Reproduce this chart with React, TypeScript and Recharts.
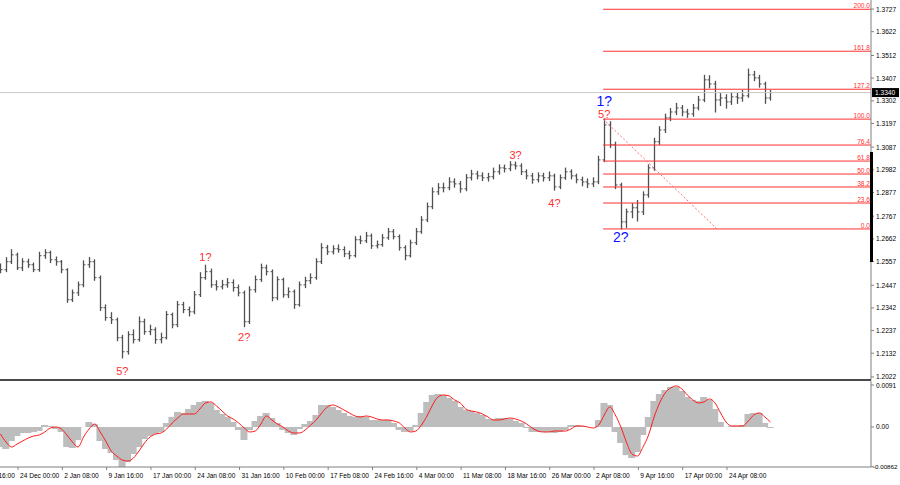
import { ComposedChart, Bar, Line, XAxis, YAxis, ReferenceLine, ReferenceDot } from 'recharts';

// GBPUSD-like H4 bars (one bar here stands for a few of the original)
const firstOpen = 1.2530;
const closes = [
  1.2519, 1.2556, 1.2588, 1.2528, 1.2556, 1.2542, 1.2519, 1.2584, 1.2598, 1.2565,
  1.2556, 1.2519, 1.2380, 1.2412, 1.2449, 1.2542, 1.2556, 1.2482, 1.2343, 1.2297,
  1.2287, 1.2204, 1.2139, 1.2218, 1.2195, 1.2278, 1.2232, 1.2241, 1.2195, 1.2204,
  1.2311, 1.2264, 1.2357, 1.2334, 1.2324, 1.2403, 1.2482, 1.2510, 1.2449, 1.2440,
  1.2449, 1.2459, 1.2436, 1.2412, 1.2278, 1.2426, 1.2473, 1.2528, 1.2510, 1.2389,
  1.2473, 1.2403, 1.2417, 1.2357, 1.2449, 1.2468, 1.2482, 1.2556, 1.2621, 1.2602,
  1.2616, 1.2612, 1.2593, 1.2584, 1.2658, 1.2653, 1.2676, 1.2630, 1.2635, 1.2667,
  1.2695, 1.2672, 1.2621, 1.2584, 1.2644, 1.2695, 1.2750, 1.2811, 1.2880, 1.2899,
  1.2899, 1.2926, 1.2917, 1.2894, 1.2945, 1.2963, 1.2954, 1.2945, 1.2950, 1.2973,
  1.2991, 1.2987, 1.3005, 1.3000, 1.2973, 1.2954, 1.2936, 1.2954, 1.2945, 1.2954,
  1.2903, 1.2945, 1.2973, 1.2954, 1.2936, 1.2926, 1.2917, 1.2926, 1.3028, 1.3190,
  1.3098, 1.2912, 1.2741, 1.2787, 1.2806, 1.2787, 1.2866, 1.2991, 1.3112, 1.3167,
  1.3223, 1.3250, 1.3269, 1.3250, 1.3241, 1.3269, 1.3306, 1.3399, 1.3380, 1.3306,
  1.3315, 1.3297, 1.3320, 1.3315, 1.3325, 1.3422, 1.3408, 1.3380, 1.3315, 1.3340,
];
const highs = [
  1.2545, 1.2575, 1.2612, 1.2596, 1.2570, 1.2568, 1.2550, 1.2600, 1.2612, 1.2605,
  1.2578, 1.2562, 1.2524, 1.2425, 1.2462, 1.2560, 1.2576, 1.2565, 1.2490, 1.2356,
  1.2320, 1.2295, 1.2215, 1.2232, 1.2240, 1.2300, 1.2290, 1.2262, 1.2250, 1.2225,
  1.2325, 1.2318, 1.2372, 1.2368, 1.2346, 1.2418, 1.2505, 1.2540, 1.2522, 1.2468,
  1.2470, 1.2478, 1.2472, 1.2448, 1.2420, 1.2440, 1.2490, 1.2545, 1.2540, 1.2518,
  1.2486, 1.2480, 1.2435, 1.2425, 1.2462, 1.2484, 1.2500, 1.2570, 1.2640, 1.2632,
  1.2630, 1.2634, 1.2625, 1.2605, 1.2672, 1.2675, 1.2692, 1.2684, 1.2652, 1.2682,
  1.2710, 1.2705, 1.2680, 1.2630, 1.2656, 1.2710, 1.2765, 1.2828, 1.2898, 1.2918,
  1.2920, 1.2945, 1.2940, 1.2928, 1.2960, 1.2980, 1.2975, 1.2968, 1.2966, 1.2990,
  1.3005, 1.3004, 1.3020, 1.3018, 1.3010, 1.2982, 1.2965, 1.2968, 1.2966, 1.2972,
  1.2962, 1.2958, 1.2990, 1.2982, 1.2962, 1.2948, 1.2940, 1.2945, 1.3045, 1.3217,
  1.3205, 1.3110, 1.2920, 1.2800, 1.2825, 1.2840, 1.2880, 1.3005, 1.3128, 1.3182,
  1.3240, 1.3266, 1.3290, 1.3280, 1.3262, 1.3285, 1.3322, 1.3420, 1.3418, 1.3392,
  1.3335, 1.3330, 1.3340, 1.3336, 1.3350, 1.3449, 1.3438, 1.3420, 1.3388, 1.3350,
];
const lows = [
  1.2505, 1.2510, 1.2548, 1.2520, 1.2515, 1.2530, 1.2510, 1.2512, 1.2572, 1.2552,
  1.2540, 1.2505, 1.2368, 1.2372, 1.2400, 1.2440, 1.2530, 1.2470, 1.2330, 1.2285,
  1.2270, 1.2190, 1.2110, 1.2128, 1.2180, 1.2188, 1.2220, 1.2218, 1.2178, 1.2180,
  1.2198, 1.2250, 1.2255, 1.2320, 1.2305, 1.2315, 1.2395, 1.2475, 1.2438, 1.2425,
  1.2430, 1.2438, 1.2420, 1.2398, 1.2255, 1.2270, 1.2415, 1.2465, 1.2495, 1.2375,
  1.2380, 1.2392, 1.2390, 1.2340, 1.2350, 1.2436, 1.2455, 1.2475, 1.2548, 1.2590,
  1.2592, 1.2600, 1.2580, 1.2570, 1.2578, 1.2640, 1.2645, 1.2618, 1.2620, 1.2628,
  1.2660, 1.2662, 1.2610, 1.2565, 1.2578, 1.2636, 1.2688, 1.2742, 1.2802, 1.2868,
  1.2880, 1.2890, 1.2902, 1.2878, 1.2885, 1.2935, 1.2940, 1.2932, 1.2930, 1.2940,
  1.2962, 1.2972, 1.2978, 1.2986, 1.2960, 1.2940, 1.2920, 1.2926, 1.2930, 1.2932,
  1.2888, 1.2895, 1.2938, 1.2940, 1.2922, 1.2908, 1.2900, 1.2905, 1.2918, 1.3020,
  1.3085, 1.2895, 1.2708, 1.2715, 1.2760, 1.2745, 1.2775, 1.2855, 1.2980, 1.3100,
  1.3155, 1.3210, 1.3238, 1.3232, 1.3225, 1.3230, 1.3260, 1.3298, 1.3362, 1.3250,
  1.3280, 1.3268, 1.3285, 1.3290, 1.3300, 1.3318, 1.3395, 1.3365, 1.3290, 1.3305,
];

// MACD panel: histogram (grey) and signal (red)
const macdHist = [
  -0.00434, -0.00477, -0.00304, -0.00195, -0.0013, -0.0013, -0.00108, -0.00087, 0.00043, 0.00022,
  -0.00043, -0.00108, -0.00434, -0.00456, -0.00282, 0, 0.00108, 0.00065, -0.00304, -0.00477,
  -0.00564, -0.00716, -0.00868, -0.0076, -0.00586, -0.00434, -0.0026, -0.00195, -0.00152, -0.00108,
  0.00087, 0.00217, 0.00326, 0.00304, 0.00391, 0.00477, 0.00543, 0.00564, 0.00521, 0.00369,
  0.00282, 0.00217, 0.00108, -0.00065, -0.00282, -0.00065, 0.0013, 0.00239, 0.00304, 0.00195,
  0.00087, -0.00065, -0.0013, -0.00174, -0.00043, 0.00065, 0.0013, 0.0026, 0.00477, 0.00477,
  0.00434, 0.00369, 0.00304, 0.00239, 0.00217, 0.00239, 0.00217, 0.00152, 0.00152, 0.00152,
  0.00152, 0.00087, -0.00065, -0.00108, -0.00087, 0.00043, 0.00304, 0.00543, 0.00694, 0.00716,
  0.00694, 0.00629, 0.00564, 0.00434, 0.00369, 0.00347, 0.00304, 0.0026, 0.00174, 0.00174,
  0.00195, 0.00195, 0.00174, 0.0013, 0.00087, -0.00022, -0.00108, -0.00108, -0.00108, -0.00108,
  -0.0013, -0.00108, -0.00065, 0.00043, 0.00043, 0.00022, 0, 0, 0.00152, 0.00521,
  0.00477, -0.00108, -0.00347, -0.00608, -0.00673, -0.00543, -0.00174, 0.00217, 0.00564, 0.00716,
  0.00803, 0.00868, 0.00868, 0.00781, 0.00651, 0.00586, 0.00564, 0.00651, 0.00586, 0.00391,
  0.00108, 0, 0.00022, 0.00022, 0.00043, 0.00282, 0.00304, 0.00304, 0.00087, -0.00022,
];
const macdSignal = [
  -0.00152, -0.00326, -0.00434, -0.00369, -0.00304, -0.00239, -0.00195, -0.00174, -0.00108, -0.00022,
  0, -0.00043, -0.00174, -0.00326, -0.00434, -0.00217, -0.00043, 0.00065, -0.00108, -0.00304,
  -0.00521, -0.00629, -0.00716, -0.00738, -0.00673, -0.00521, -0.00347, -0.00217, -0.00152, -0.0013,
  -0.00043, 0.00087, 0.00195, 0.00282, 0.00282, 0.00282, 0.00391, 0.00521, 0.00543, 0.00456,
  0.00347, 0.00239, 0.00174, 0.00087, -0.00022, -0.00108, -0.00087, 0.00065, 0.00239, 0.00152,
  0.00065, 0, -0.00087, -0.0013, -0.0013, -0.00065, 0.00043, 0.00152, 0.00304, 0.00434,
  0.00477, 0.00434, 0.00369, 0.00304, 0.00239, 0.00217, 0.00239, 0.00217, 0.00174, 0.00152,
  0.00152, 0.0013, 0.00087, -0.00022, -0.00108, -0.00087, 0.00043, 0.00239, 0.00477, 0.00651,
  0.00694, 0.00673, 0.00586, 0.00521, 0.00391, 0.00347, 0.00326, 0.00282, 0.00217, 0.00152,
  0.00152, 0.00174, 0.00195, 0.00174, 0.0013, 0.00065, -0.00022, -0.00087, -0.00108, -0.00108,
  -0.00087, -0.00087, -0.00087, -0.00043, 0.00022, 0.00022, 0, -0.00022, 0.00043, 0.0026,
  0.00434, 0.0026, 0, -0.00326, -0.00586, -0.00629, -0.00434, -0.00174, 0.00217, 0.00521,
  0.00738, 0.00846, 0.0089, 0.00825, 0.00694, 0.00586, 0.00521, 0.00543, 0.00608, 0.00521,
  0.00304, 0.00108, 0.00022, 0.00022, 0.00022, 0.0013, 0.0026, 0.00304, 0.00217, 0.00108,
];

const priceTicks = [
  1.3727, 1.3622, 1.3512, 1.3407, 1.3302, 1.3197, 1.3087, 1.2982, 1.2877,
  1.2767, 1.2662, 1.2557, 1.2447, 1.2342, 1.2237, 1.2132, 1.2022,
];
const macdTicks = [0.0091, 0, -0.00862];
const macdTickLabels = ['0.0091', '0.00', '-0.00862'];
const dateLabels = [
  '16 Dec 16:00', '24 Dec 00:00', '2 Jan 08:00', '9 Jan 16:00', '17 Jan 00:00', '24 Jan 08:00',
  '31 Jan 16:00', '10 Feb 00:00', '17 Feb 08:00', '24 Feb 16:00', '4 Mar 00:00', '11 Mar 08:00',
  '18 Mar 16:00', '26 Mar 00:00', '2 Apr 08:00', '9 Apr 16:00', '17 Apr 00:00', '24 Apr 08:00',
];
const lastPrice = 1.3340;

// Fibonacci grid drawn from the 2? low to the 1? high
const fibLow = 1.2708;
const fibHigh = 1.3217;
const fibRatios = [0, 0.236, 0.382, 0.5, 0.618, 0.764, 1, 1.272, 1.618, 2];
const fibNames = ['0.0', '23.6', '38.2', '50.0', '61.8', '76.4', '100.0', '127.2', '161.8', '200.0'];

const X_DOMAIN: [number, number] = [-5.145, 157.16];
const FIRST_TICK = -4.84;
const BARS_PER_LABEL = 8;
const FIB_START = 108.8;
const FIB_DASH_END = 129.35;
const FONT = '"Liberation Sans", Arial, sans-serif';
const RED = '#ff3030';

const rows = closes.map((c, i) => ({
  i,
  open: i === 0 ? firstOpen : closes[i - 1],
  high: highs[i],
  low: lows[i],
  close: c,
  range: [lows[i], highs[i]],
  hist: macdHist[i],
  signal: macdSignal[i],
}));

const dateTicks = dateLabels.map((_, k) => FIRST_TICK + k * BARS_PER_LABEL);

const OhlcBar = (props: any) => {
  const { x, y, width, height, payload } = props;
  if (x == null || y == null) return null;
  const top = Math.min(y, y + height);
  const bottom = Math.max(y, y + height);
  const span = payload.high - payload.low || 1e-9;
  const toY = (v: number) => top + ((payload.high - v) / span) * (bottom - top);
  const cx = Math.round(x + width / 2) + 0.5;
  return (
    <g stroke="#505050" strokeWidth={1}>
      <line x1={cx} x2={cx} y1={top - 0.5} y2={bottom + 0.5} strokeWidth={1.3} />
      <line x1={cx - 2} x2={cx} y1={toY(payload.open)} y2={toY(payload.open)} />
      <line x1={cx} x2={cx + 2} y1={toY(payload.close)} y2={toY(payload.close)} />
    </g>
  );
};

// histogram columns widened a touch so they merge into a solid band
const HistBar = (props: any) => {
  const { x, y, width, height } = props;
  if (x == null || y == null || !height) return null;
  const top = Math.min(y, y + height);
  const h = Math.abs(height);
  return <rect x={x - 1} y={top} width={width + 2} height={h} fill="#bdbdbd" />;
};

const PriceTick = ({ x, y, payload }: any) => (
  <text x={x} y={y + 2.5} fontSize={6.6} fontFamily={FONT} fill="#000" textAnchor="start">
    {payload.value.toFixed(4)}
  </text>
);

const MacdTick = ({ x, y, index }: any) => {
  const label = macdTickLabels[index];
  const long = label.length > 6;
  return (
    <text x={long ? x - 3 : x} y={y + 2.5} fontSize={long ? 6.2 : 6.6} fontFamily={FONT} fill="#000" textAnchor="start">
      {label}
    </text>
  );
};

const DateTick = ({ x, y, index }: any) => (
  <text x={x + 2} y={y + 8} fontSize={6.6} fontFamily={FONT} fill="#000" textAnchor="start">
    {dateLabels[index]}
  </text>
);

const PriceBox = (props: any) => {
  const vb = props.viewBox || {};
  const right = vb.x + vb.width;
  return (
    <g>
      <rect x={right + 1} y={vb.y - 4.5} width={27} height={9} fill="#000" />
      <text x={right + 4} y={vb.y + 2.5} fontSize={6.6} fontFamily={FONT} fill="#fff">
        {lastPrice.toFixed(4)}
      </text>
    </g>
  );
};

const waveLabel = (text: string, color: string, size: number, position: 'top' | 'bottom', offset: number) => ({
  value: text,
  position,
  offset,
  fill: color,
  fontSize: size,
  fontFamily: FONT,
});

const App = () => {
  return (
    <div style={{ position: 'fixed', left: 0, top: 0, width: 900, height: 485, overflow: 'hidden', background: '#fff' }}>
      <div style={{ position: 'absolute', left: -28, top: 0 }}>
        <ComposedChart width={928} height={380} data={rows} margin={{ top: 0, right: 0, bottom: 0, left: 0 }}>
          <XAxis dataKey="i" type="number" domain={X_DOMAIN} hide allowDataOverflow />
          <YAxis
            orientation="right"
            width={29}
            domain={[1.2008, 1.3769]}
            ticks={priceTicks}
            interval={0}
            allowDataOverflow
            stroke="#808080"
            tickSize={3}
            tickMargin={2}
            tick={<PriceTick />}
          />
          <ReferenceLine y={lastPrice} stroke="#c8c8c8" label={<PriceBox />} />
          {fibRatios.map((r, k) => {
            const level = fibLow + (fibHigh - fibLow) * r;
            return (
              <ReferenceLine
                key={fibNames[k]}
                segment={[{ x: FIB_START, y: level }, { x: X_DOMAIN[1], y: level }]}
                stroke={RED}
                strokeWidth={1}
                label={{ value: fibNames[k], position: 'insideBottomRight', offset: 1, fill: RED, fontSize: 6.6, fontFamily: FONT }}
              />
            );
          })}
          <ReferenceLine
            segment={[{ x: FIB_START, y: fibHigh }, { x: FIB_DASH_END, y: fibLow }]}
            stroke="#ff7070"
            strokeDasharray="2 2"
          />
          <Bar dataKey="range" barSize={3} shape={<OhlcBar />} isAnimationActive={false} />
          <ReferenceDot x={22} y={lows[22]} r={0.1} fill="none" stroke="none" label={waveLabel('5?', RED, 11, 'bottom', 9)} />
          <ReferenceDot x={37} y={highs[37]} r={0.1} fill="none" stroke="none" label={waveLabel('1?', RED, 11, 'top', 4)} />
          <ReferenceDot x={44} y={lows[44]} r={0.1} fill="none" stroke="none" label={waveLabel('2?', RED, 11, 'bottom', 6)} />
          <ReferenceDot x={93} y={highs[93]} r={0.1} fill="none" stroke="none" label={waveLabel('3?', RED, 11, 'top', 3)} />
          <ReferenceDot x={100} y={lows[100]} r={0.1} fill="none" stroke="none" label={waveLabel('4?', RED, 11, 'bottom', 9)} />
          <ReferenceDot x={109} y={highs[109]} r={0.1} fill="none" stroke="none" label={waveLabel('5?', RED, 11, 'top', 1)} />
          <ReferenceDot x={109} y={highs[109]} r={0.1} fill="none" stroke="none" label={waveLabel('1?', '#1010ff', 14, 'top', 13)} />
          <ReferenceDot x={112} y={lows[112]} r={0.1} fill="none" stroke="none" label={waveLabel('2?', '#1010ff', 14, 'bottom', 3)} />
        </ComposedChart>
      </div>
      <div style={{ position: 'absolute', left: 0, top: 379, width: 871, height: 2, background: '#4a4a4a' }} />
      <div style={{ position: 'absolute', left: 870, top: 152, width: 3, height: 110, background: '#000' }} />
      <div style={{ position: 'absolute', left: -28, top: 381 }}>
        <ComposedChart width={928} height={104} data={rows} margin={{ top: 0, right: 0, bottom: 0, left: 0 }}>
          <XAxis
            dataKey="i"
            type="number"
            domain={X_DOMAIN}
            ticks={dateTicks}
            interval={0}
            allowDataOverflow
            height={18}
            stroke="#808080"
            tickSize={3}
            tickMargin={0}
            tick={<DateTick />}
          />
          <YAxis
            orientation="right"
            width={29}
            domain={[-0.00867, 0.00997]}
            ticks={macdTicks}
            interval={0}
            allowDataOverflow
            stroke="#808080"
            tickSize={3}
            tickMargin={2}
            tick={<MacdTick />}
          />
          <Bar dataKey="hist" barSize={5} shape={<HistBar />} isAnimationActive={false} />
          <Line dataKey="signal" type="monotone" stroke="#ff1a1a" strokeWidth={1} dot={false} isAnimationActive={false} />
        </ComposedChart>
      </div>
    </div>
  );
};

export default App;
